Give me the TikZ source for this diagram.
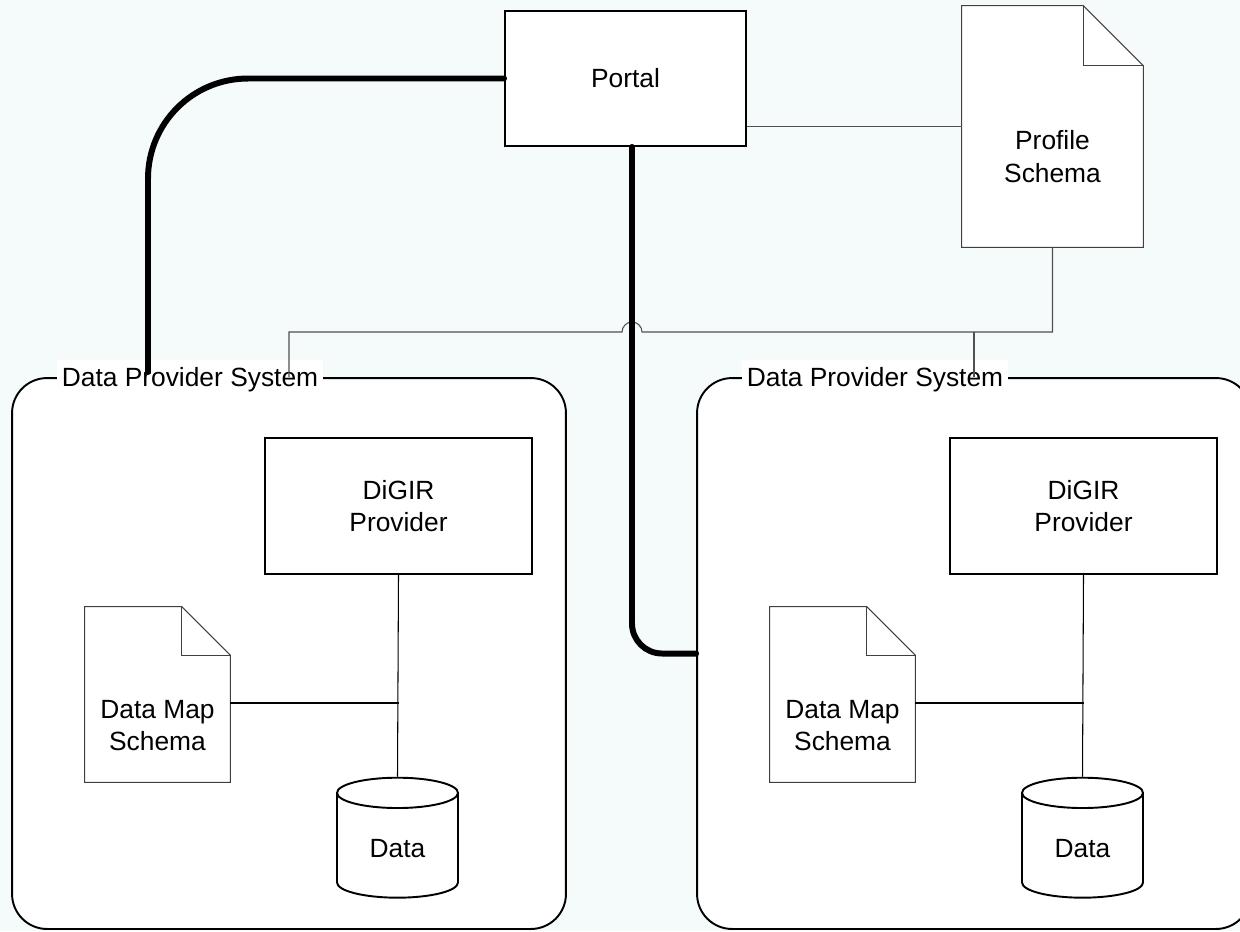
\documentclass[tikz,border=0pt]{standalone}
\usepackage{fontspec}
\setmainfont{Liberation Sans}
\usetikzlibrary{shapes.geometric}
\definecolor{canvas}{HTML}{F5FBFB}
\definecolor{wiregray}{HTML}{505050}

\begin{document}
\begin{tikzpicture}[
  x=0.02cm, y=-0.02cm,
    font=\fontsize{15}{18.7}\selectfont,
    box/.style={rectangle, draw, line width=1.1pt, fill=white, align=center},
    doc/.style={rectangle, inner sep=0pt},
    docline/.style={draw=black!75, line width=0.6pt, fill=white},
    doctext/.style={align=center, inner sep=0pt},
    store/.style={cylinder, shape border rotate=90, aspect=0.45, draw, line width=1.1pt,
      fill=white, minimum width=2.42cm, minimum height=2.4cm},
    system/.style={rectangle, draw, line width=1.1pt, fill=white, rounded corners=0.7cm,
      minimum width=11.08cm, minimum height=11.02cm},
    caption/.style={fill=white, inner xsep=3pt, inner ysep=4pt, anchor=base},
    wire/.style={draw=wiregray, line width=0.6pt},
    link/.style={line width=1.1pt},
    feed/.style={line width=3.4pt, line cap=round}
]

% Canvas
\useasboundingbox (0,0) rectangle (1240,931);
\fill[canvas] (0,0) rectangle (1240,931);
\clip (0,0) rectangle (1240,931);

% Provider systems
\node[system] (sys1) at (289,653.5) {};
\node[system] (sys2) at (974,653.5) {};
\node[caption] (sys1lbl) at (190,386) {Data Provider System};
\node[caption] (sys2lbl) at (875,386) {Data Provider System};

% Portal and profile schema
\node[box, minimum width=4.82cm, minimum height=2.7cm] (portal) at (625.5,78.5) {Portal};
\node[doc, minimum width=3.62cm, minimum height=4.82cm] (profile) at (1052.5,126.5) {};
\draw[docline] (profile.south west) -- (profile.north west) -- ([xshift=-1.2cm]profile.north east)
  -- ([yshift=-1.2cm]profile.north east) -- (profile.south east) -- cycle;
\draw[docline, fill=none] ([xshift=-1.2cm]profile.north east) |- ([yshift=-1.2cm]profile.north east);
\node[doctext] (profiletxt) at ([yshift=-0.6cm]profile.center) {Profile\\Schema};

% Profile schema wiring
\coordinate (hop) at (632,332);
\draw[wire] (portal.east |- profile.west) -- (profile.west);
\draw[wire] (profile.south) |- ([xshift=0.2cm]hop)
  arc[start angle=0, end angle=180, radius=0.2cm] -| (sys1.north);
\draw[wire] (sys2.north |- hop) -- (sys2.north);

% Left provider
\node[box, minimum width=5.34cm, minimum height=2.72cm] (digir1) at (398.5,506) {DiGIR\\Provider};
\node[doc, minimum width=2.9cm, minimum height=3.5cm] (map1) at (157.5,694.5) {};
\draw[docline] (map1.south west) -- (map1.north west) -- ([xshift=-0.97cm]map1.north east)
  -- ([yshift=-0.97cm]map1.north east) -- (map1.south east) -- cycle;
\draw[docline, fill=none] ([xshift=-0.97cm]map1.north east) |- ([yshift=-0.97cm]map1.north east);
\node[doctext] (map1txt) at ([yshift=-0.62cm]map1.center) {Data Map\\Schema};
\node[store] (data1) at (397.5,849) {Data};
\coordinate (join1) at (398.5,703);
\draw[wire, draw=black] (digir1.south) -- (data1.north);
\draw[link] (map1.east |- join1) -- (join1);

% Right provider
\node[box, minimum width=5.34cm, minimum height=2.72cm] (digir2) at (1083.5,506) {DiGIR\\Provider};
\node[doc, minimum width=2.9cm, minimum height=3.5cm] (map2) at (842.5,694.5) {};
\draw[docline] (map2.south west) -- (map2.north west) -- ([xshift=-0.97cm]map2.north east)
  -- ([yshift=-0.97cm]map2.north east) -- (map2.south east) -- cycle;
\draw[docline, fill=none] ([xshift=-0.97cm]map2.north east) |- ([yshift=-0.97cm]map2.north east);
\node[doctext] (map2txt) at ([yshift=-0.62cm]map2.center) {Data Map\\Schema};
\node[store] (data2) at (1082.5,849) {Data};
\coordinate (join2) at (1083.5,703);
\draw[wire, draw=black] (digir2.south) -- (data2.north);
\draw[link] (map2.east |- join2) -- (join2);

% Portal feeds
\coordinate (feed1) at (148,372);
\draw[feed, rounded corners=2cm] (portal.west) -| (feed1);
\draw[feed, rounded corners=0.6cm] ([xshift=0.13cm]portal.south) |- (sys2.west);

\end{tikzpicture}
\end{document}
